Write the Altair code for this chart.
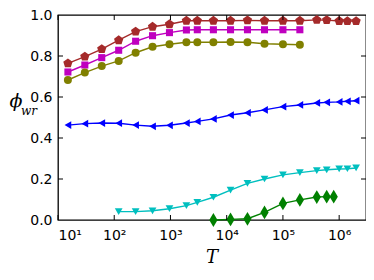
import altair as alt
import pandas as pd

# ---- data ----
T_full = [15, 30, 60, 120, 240, 480, 960, 1920, 3000, 5800, 11700, 23400, 47000,
          100000, 200000, 400000, 600000, 1000000, 1400000, 2000000]

brown_phi = [0.764, 0.797, 0.834, 0.877, 0.919, 0.943, 0.955, 0.972, 0.972, 0.972,
             0.972, 0.974, 0.972, 0.972, 0.972, 0.976, 0.975, 0.971, 0.970, 0.970]
magenta_phi = [0.722, 0.756, 0.792, 0.828, 0.872, 0.899, 0.914, 0.927, 0.928, 0.928,
               0.928, 0.928, 0.928, 0.928, 0.928]
olive_phi = [0.683, 0.719, 0.751, 0.776, 0.816, 0.845, 0.857, 0.867, 0.867, 0.867,
             0.868, 0.867, 0.860, 0.857, 0.855]
blue_phi = [0.463, 0.470, 0.473, 0.472, 0.463, 0.457, 0.462, 0.473, 0.481, 0.493,
            0.512, 0.523, 0.537, 0.553, 0.561, 0.571, 0.574, 0.576, 0.579, 0.582]
T_cyan = [120, 240, 480, 960, 1920, 3000, 5800, 11700, 23400, 47000, 100000, 200000,
          400000, 600000, 1000000, 1400000, 2000000]
cyan_phi = [0.041, 0.041, 0.045, 0.055, 0.070, 0.086, 0.111, 0.146, 0.179, 0.200,
            0.220, 0.231, 0.241, 0.245, 0.249, 0.250, 0.254]
T_green = [5800, 11700, 23400, 47000, 100000, 200000, 400000, 600000, 800000]
green_phi = [0.0, 0.003, 0.006, 0.037, 0.081, 0.098, 0.112, 0.114, 0.114]

series_names = ["brown", "magenta", "olive", "blue", "cyan", "green"]
series_colors = ["#a52a2a", "#bf00bf", "#808000", "#0000ff", "#00bfbf", "#008000"]
pentagon = "M0,-1L0.951,-0.309L0.588,0.809L-0.588,0.809L-0.951,-0.309Z"
thin_diamond = "M0,-1L0.6,0L0,1L-0.6,0Z"
series_shapes = [pentagon, "square", "circle", "triangle-left", "triangle-down", thin_diamond]
marker_sizes = [95, 50, 64, 60, 60, 190]

x_ticks = [10, 100, 1000, 10000, 100000, 1000000]
y_ticks = [0.2, 0.4, 0.6, 0.8]

rows = []
for name, ts, ph in [("brown", T_full, brown_phi),
                     ("magenta", T_full[:15], magenta_phi),
                     ("olive", T_full[:15], olive_phi),
                     ("blue", T_full, blue_phi),
                     ("cyan", T_cyan, cyan_phi),
                     ("green", T_green, green_phi)]:
    for t, p in zip(ts, ph):
        rows.append({"series": name, "T": t, "phi": p})
df = pd.DataFrame(rows)
size_of = dict(zip(series_names, marker_sizes))
df["msize"] = df["series"].map(size_of)

W, H = 308, 205

xscale = alt.Scale(type="log", domain=[10, 3000000], nice=False)
yscale = alt.Scale(domain=[0, 1], nice=False)
color = alt.Color("series:N", scale=alt.Scale(domain=series_names, range=series_colors), legend=None)
shape = alt.Shape("series:N", scale=alt.Scale(domain=series_names, range=series_shapes), legend=None)

sup = "['⁰','¹','²','³','⁴','⁵','⁶','⁷'][round(log(datum.value)/LN10)]"
xaxis = alt.Axis(values=x_ticks, labelExpr="'10' + " + sup, tickSize=0, domain=False,
                 grid=False, labelFont="DejaVu Sans", labelFontSize=14, labelColor="black",
                 labelPadding=8, title=None)
yaxis = alt.Axis(values=[0, 0.2, 0.4, 0.6, 0.8, 1.0], format=".1f", tickSize=0, domain=False,
                 grid=False, labelFont="DejaVu Sans", labelFontSize=14, labelColor="black",
                 labelPadding=6, title=None)

base = alt.Chart(df)
lines = base.mark_line(strokeWidth=1.4, clip=False).encode(
    x=alt.X("T:Q", scale=xscale, axis=xaxis),
    y=alt.Y("phi:Q", scale=yscale, axis=yaxis),
    color=color, detail="series:N")
points = base.mark_point(filled=True, opacity=1).encode(
    x=alt.X("T:Q", scale=xscale), y=alt.Y("phi:Q", scale=yscale),
    color=color, shape=shape, size=alt.Size("msize:Q", scale=None, legend=None))

xt = pd.DataFrame({"T": x_ticks})
yt = pd.DataFrame({"phi": y_ticks})
tick_len = 5
xt_bot = alt.Chart(xt).mark_rule(color="black", strokeWidth=1).encode(
    x=alt.X("T:Q", scale=xscale), y=alt.value(H), y2=alt.value(H - tick_len))
xt_top = alt.Chart(xt).mark_rule(color="black", strokeWidth=1).encode(
    x=alt.X("T:Q", scale=xscale), y=alt.value(0), y2=alt.value(tick_len))
yt_left = alt.Chart(yt).mark_rule(color="black", strokeWidth=1).encode(
    y=alt.Y("phi:Q", scale=yscale), x=alt.value(0), x2=alt.value(tick_len))
yt_right = alt.Chart(yt).mark_rule(color="black", strokeWidth=1).encode(
    y=alt.Y("phi:Q", scale=yscale), x=alt.value(W), x2=alt.value(W - tick_len))

phi_lbl = alt.Chart(pd.DataFrame({"t": ["ϕ"]})).mark_text(
    font="DejaVu Serif", fontStyle="italic", fontSize=19, color="black").encode(
    text="t:N", x=alt.value(-42), y=alt.value(86))
wr_lbl = alt.Chart(pd.DataFrame({"t": ["wr"]})).mark_text(
    font="DejaVu Serif", fontStyle="italic", fontSize=12, color="black").encode(
    text="t:N", x=alt.value(-29), y=alt.value(96))
T_lbl = alt.Chart(pd.DataFrame({"t": ["T"]})).mark_text(
    font="DejaVu Serif", fontStyle="italic", fontSize=18, color="black").encode(
    text="t:N", x=alt.value(154), y=alt.value(243))

chart = alt.layer(lines, points, xt_bot, xt_top, yt_left, yt_right, phi_lbl, wr_lbl, T_lbl).properties(
    width=W, height=H,
    autosize=alt.AutoSizeParams(type="none"),
    padding={"left": 50, "top": 7, "right": 0, "bottom": 57},
).configure(background="white").configure_view(stroke="#000000", strokeWidth=1.3, strokeOpacity=1)

chart.save("out.html", embed_options={"renderer": "svg", "actions": False})
